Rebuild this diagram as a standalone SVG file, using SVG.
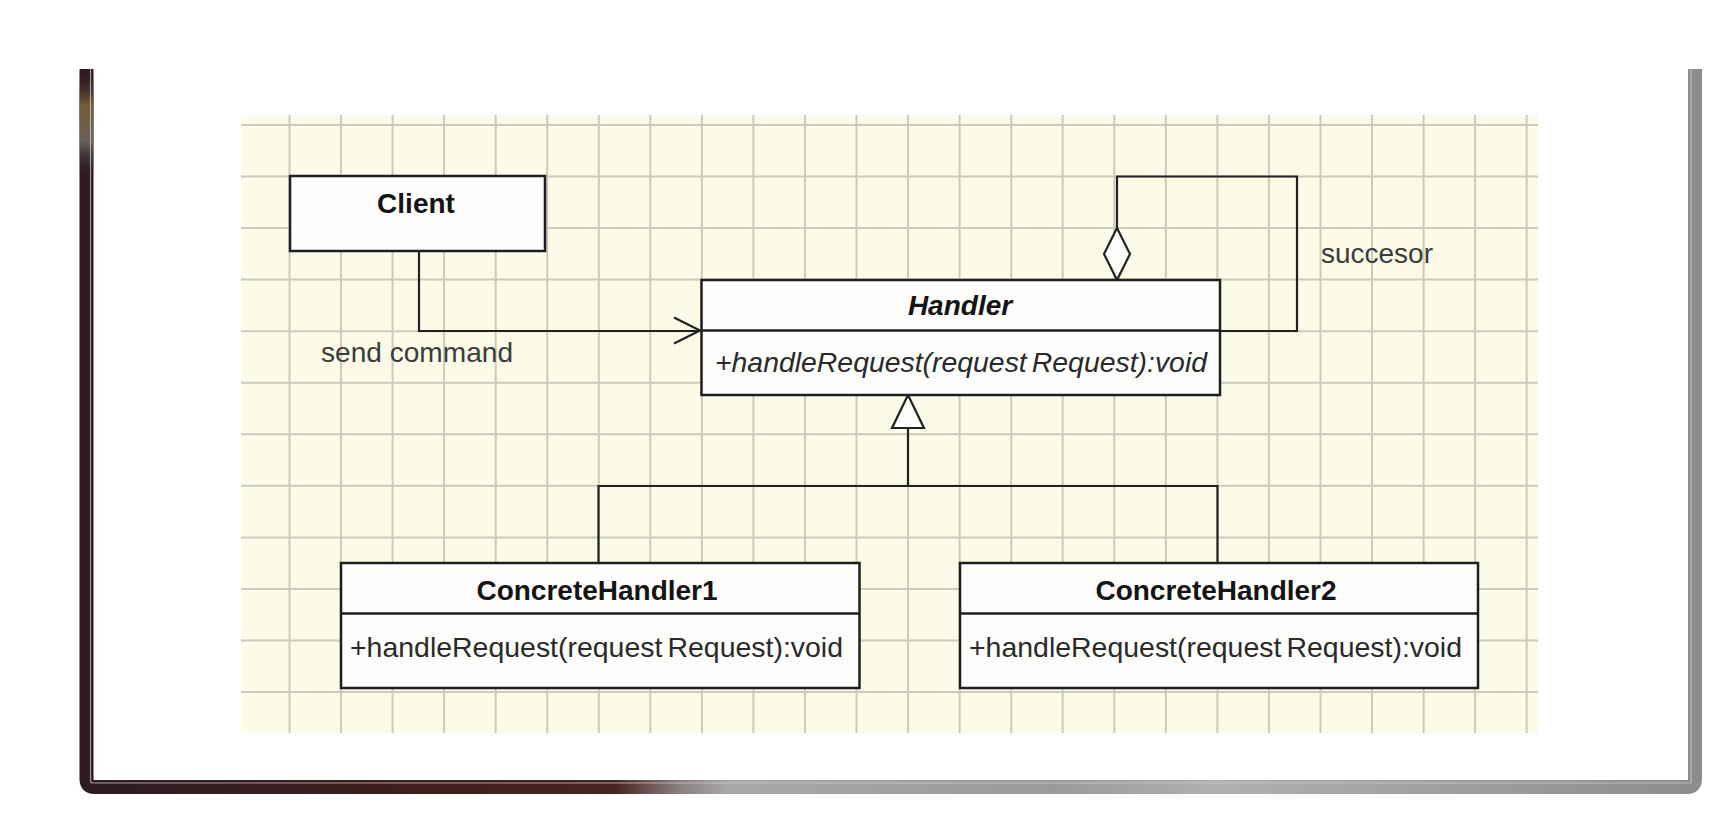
<svg xmlns="http://www.w3.org/2000/svg" width="1734" height="818" viewBox="0 0 1734 818">
<style>
.grid{stroke:#cbcbbd;stroke-width:2;fill:none}
.box{fill:#fdfdfb;stroke:#1e1e1e;stroke-width:2.5}
.div{stroke:#1e1e1e;stroke-width:2.5}
.conn{fill:none;stroke:#222;stroke-width:2.2}
.title{font-family:"Liberation Sans",Arial,sans-serif;font-size:28px;font-weight:bold;fill:#141414;text-anchor:middle}
.meth{font-family:"Liberation Sans",Arial,sans-serif;font-size:28px;fill:#2a2a2a}
.lbl{font-family:"Liberation Sans",Arial,sans-serif;font-size:28px;fill:#3c3c3c}
</style>
<defs>
<linearGradient id="frameG" gradientUnits="userSpaceOnUse" x1="79" y1="0" x2="1702" y2="0">
<stop offset="0" stop-color="#2c1c22"/>
<stop offset="0.2" stop-color="#3e1e1e"/>
<stop offset="0.33" stop-color="#4a2222"/>
<stop offset="0.37" stop-color="#8a8080"/>
<stop offset="0.4" stop-color="#a8a8a8"/>
<stop offset="0.6" stop-color="#9a9a9a"/>
<stop offset="0.7" stop-color="#b0b0b0"/>
<stop offset="1" stop-color="#8c8c8c"/>
</linearGradient>
<linearGradient id="leftG" gradientUnits="userSpaceOnUse" x1="0" y1="69" x2="0" y2="794">
<stop offset="0" stop-color="#2c1c22" stop-opacity="0"/>
<stop offset="0.05" stop-color="#7a6438" stop-opacity="0.9"/>
<stop offset="0.1" stop-color="#7a7068" stop-opacity="0.8"/>
<stop offset="0.15" stop-color="#2c1c22" stop-opacity="0"/>
<stop offset="1" stop-color="#2c1c22" stop-opacity="0"/>
</linearGradient>
</defs>
<rect x="0" y="0" width="1734" height="818" fill="#ffffff"/>
<g id="frame">
<path d="M86.5,69 V779 Q86.5,787 94.5,787 H1687 Q1695,787 1695,779 V69" fill="none" stroke="url(#frameG)" stroke-width="14"/>
<rect x="79.5" y="69" width="14" height="700" fill="url(#leftG)"/>
<path d="M90.5,69 V781 Q90.5,783 93,783 H1689 Q1691,783 1691,781 V69" fill="none" stroke="#d8ccd0" stroke-width="1.2" opacity="0.7"/>
</g>
<g id="grid">
<rect x="241" y="115" width="1297" height="618" fill="#fbfbe7"/>
<path class="grid" d="M289.5,115V733M341,115V733M392.6,115V733M444.1,115V733M495.7,115V733M547.2,115V733M598.8,115V733M650.3,115V733M701.9,115V733M753.4,115V733M805,115V733M856.5,115V733M908.1,115V733M959.6,115V733M1011.2,115V733M1062.7,115V733M1114.3,115V733M1165.8,115V733M1217.4,115V733M1268.9,115V733M1320.5,115V733M1372,115V733M1423.6,115V733M1475.1,115V733M1526.7,115V733"/>
<path class="grid" d="M241,125H1538M241,176.5H1538M241,228.1H1538M241,279.6H1538M241,331.2H1538M241,382.7H1538M241,434.3H1538M241,485.8H1538M241,537.4H1538M241,588.9H1538M241,640.5H1538M241,692H1538"/>
</g>
<g id="connectors">
<path class="conn" d="M419,251 V331 H700"/>
<path class="conn" d="M674,317.5 L700,330.5 L674,343.5"/>
<path class="conn" d="M1117,228 V176.5 H1297 V331 H1220"/>
<path d="M1117,228 L1130,254 L1117,280 L1104,254 Z" fill="#fdfdfb" stroke="#222" stroke-width="2.2"/>
<path class="conn" d="M908,428 V486 M598.5,563 V486 H1217.5 V563"/>
<path d="M908,395 L924,428 L892,428 Z" fill="#fdfdfb" stroke="#222" stroke-width="2.2"/>
<text class="lbl" x="321" y="362" textLength="192" lengthAdjust="spacingAndGlyphs">send command</text>
<text class="lbl" x="1321" y="263" textLength="112" lengthAdjust="spacingAndGlyphs">succesor</text>
</g>
<g id="client">
<rect class="box" x="290" y="176" width="255" height="75"/>
<text class="title" x="416" y="213">Client</text>
</g>
<g id="handler">
<rect class="box" x="701.5" y="280" width="518.5" height="115"/>
<line class="div" x1="701.5" y1="330.5" x2="1220" y2="330.5"/>
<text class="title" x="960" y="315" font-style="italic">Handler</text>
<text class="meth" x="715" y="372" font-style="italic" textLength="492" lengthAdjust="spacingAndGlyphs">+handleRequest(request<tspan dx="5">Request):void</tspan></text>
</g>
<g id="concreteHandler1">
<rect class="box" x="341" y="563" width="518.5" height="125"/>
<line class="div" x1="341" y1="613.5" x2="859.5" y2="613.5"/>
<text class="title" x="597" y="600">ConcreteHandler1</text>
<text class="meth" x="350" y="657" textLength="493" lengthAdjust="spacingAndGlyphs">+handleRequest(request<tspan dx="5">Request):void</tspan></text>
</g>
<g id="concreteHandler2">
<rect class="box" x="960" y="563" width="518" height="125"/>
<line class="div" x1="960" y1="613.5" x2="1478" y2="613.5"/>
<text class="title" x="1216" y="600">ConcreteHandler2</text>
<text class="meth" x="969" y="657" textLength="493" lengthAdjust="spacingAndGlyphs">+handleRequest(request<tspan dx="5">Request):void</tspan></text>
</g>
</svg>
